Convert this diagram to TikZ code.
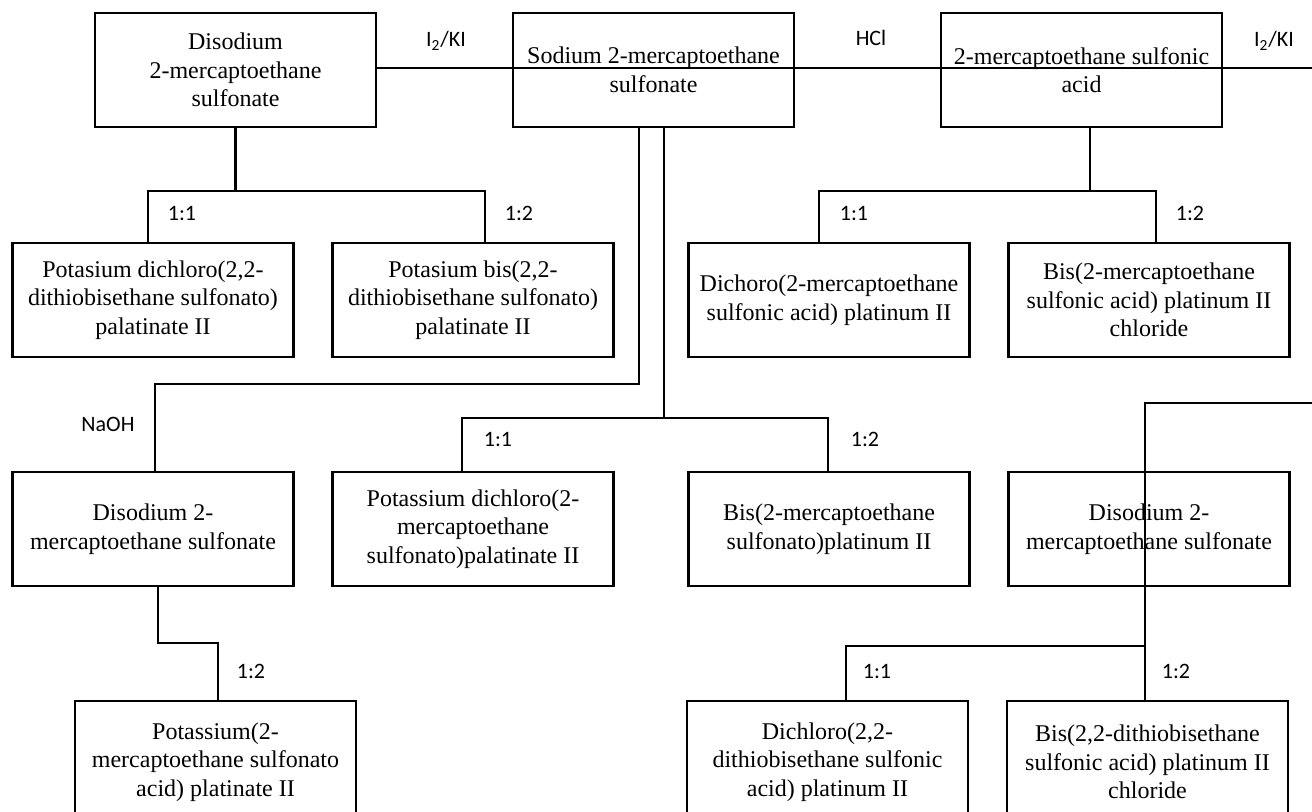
\documentclass[tikz,border=0pt]{standalone}
\usepackage{fontspec}
\setmainfont{Liberation Serif}
\newfontfamily\lblfont{Carlito}
\begin{document}
\begin{tikzpicture}[x=0.5pt,y=-0.5pt,
  box/.style={draw, line width=1.4pt, minimum width=140.5pt, minimum height=57pt, inner sep=0pt, align=center, font=\fontsize{12}{14.25}\selectfont},
  tallbox/.style={box, minimum height=61pt},
  conn/.style={line width=1.4pt},
  lbl/.style={anchor=base, inner sep=0pt, font=\lblfont\fontsize{11}{13}\selectfont}]
\useasboundingbox (0,0) rectangle (1312,812);
\clip (0,0) rectangle (1312,812);
% row 1
\node[box] (A) at (235.5,70) {Disodium\\2-mercaptoethane\\sulfonate};
\node[box] (B) at (653.5,70) {Sodium 2-mercaptoethane\\sulfonate};
\node[box] (C) at (1081.5,70) {2-mercaptoethane sulfonic\\acid};
% row 2
\node[box] (D) at (153,300) {Potasium dichloro(2,2-\\dithiobisethane sulfonato)\\palatinate II};
\node[box] (E) at (473,300) {Potasium bis(2,2-\\dithiobisethane sulfonato)\\palatinate II};
\node[box] (F) at (829,300) {Dichoro(2-mercaptoethane\\sulfonic acid) platinum II};
\node[box] (G) at (1149,300) {Bis(2-mercaptoethane\\sulfonic acid) platinum II\\chloride};
% row 3
\node[box] (H) at (153,529) {Disodium 2-\\mercaptoethane sulfonate};
\node[box] (I) at (473,529) {Potassium dichloro(2-\\mercaptoethane\\sulfonato)palatinate II};
\node[box] (J) at (829,529) {Bis(2-mercaptoethane\\sulfonato)platinum II};
\node[box] (K) at (1149,529) {Disodium 2-\\mercaptoethane sulfonate};
% row 4 (cut off by the lower edge)
\node[tallbox] (M) at (215.5,762) {Potassium(2-\\mercaptoethane sulfonato\\acid) platinate II};
\node[tallbox] (N) at (827.5,762) {Dichloro(2,2-\\dithiobisethane sulfonic\\acid) platinum II};
\node[tallbox] (O) at (1147.5,762) {Bis(2,2-dithiobisethane\\sulfonic acid) platinum II\\chloride};
% junction coordinates
\coordinate (topR) at (1312,68);
\coordinate (aL) at (148,191);
\coordinate (aR) at (485,191);
\coordinate (cL) at (819,191);
\coordinate (cR) at (1156,191);
\coordinate (b1) at (639,384);
\coordinate (b2) at (155,384);
\coordinate (b3) at (664,418);
\coordinate (bL) at (462,418);
\coordinate (bR) at (828,418);
\coordinate (r0) at (1312,403);
\coordinate (r1) at (1145,403);
\coordinate (r2) at (1145,646);
\coordinate (nL) at (846,646);
\coordinate (h1) at (158,643);
\coordinate (h2) at (218,643);
% connectors
\draw[conn] ([yshift=1pt]A.east) -- (topR);
\draw[conn] (A.south) -- (A.south |- aL);
\draw[conn] (aL |- D.north) -- (aL) -- (aR) -- (aR |- E.north);
\draw[conn] ([xshift=4.25pt]C.south) -- ([xshift=4.25pt]C.south |- cL);
\draw[conn] (cL |- F.north) -- (cL) -- (cR) -- (cR |- G.north);
\draw[conn] ([xshift=-7.25pt]B.south) -- (b1) -- (b2) -- (b2 |- H.north);
\draw[conn] ([xshift=5.25pt]B.south) -- (b3);
\draw[conn] (bL |- I.north) -- (bL) -- (bR) -- (bR |- J.north);
\draw[conn] (r0) -- (r1) -- (r1 |- O.north);
\draw[conn] (nL |- N.north) -- (nL) -- (r2);
\draw[conn] ([xshift=2.5pt]H.south) -- (h1) -- (h2) -- (h2 |- M.north);
% labels
\node[lbl] (l1) at (446,47) {I\textsubscript{2}/KI};
\node[lbl] (l2) at (871,46) {HCl};
\node[lbl] (l3) at (1274,47) {I\textsubscript{2}/KI};
\node[lbl] (l4) at (182,221) {1:1};
\node[lbl] (l5) at (519,221) {1:2};
\node[lbl] (l6) at (854,221) {1:1};
\node[lbl] (l7) at (1190,221) {1:2};
\node[lbl] (l8) at (108,432) {NaOH};
\node[lbl] (l9) at (498,447) {1:1};
\node[lbl] (l10) at (865,447) {1:2};
\node[lbl] (l11) at (251,678) {1:2};
\node[lbl] (l12) at (877,678) {1:1};
\node[lbl] (l13) at (1176,678) {1:2};
\end{tikzpicture}
\end{document}
